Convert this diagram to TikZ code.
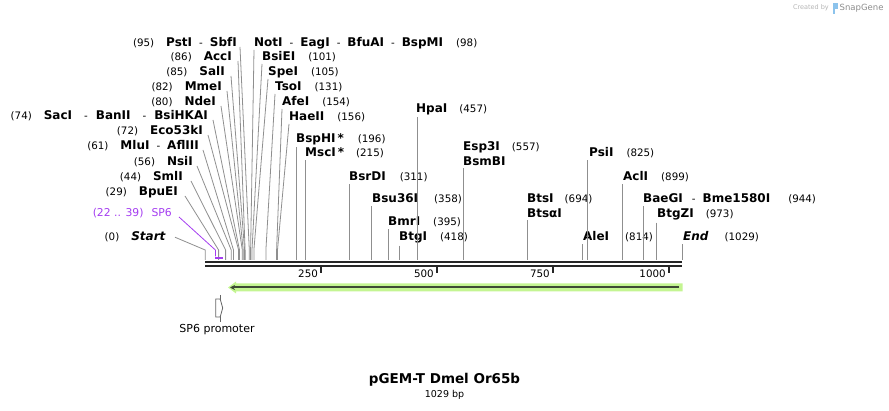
\documentclass[tikz,border=0pt]{standalone}
\usepackage{fontspec}
\setmainfont{DejaVu Sans}
\usetikzlibrary{arrows.meta}

\definecolor{leadgray}{HTML}{8F8F8F}
\definecolor{primer}{HTML}{A43DF0}
\definecolor{featlight}{HTML}{C4F592}
\definecolor{featdark}{HTML}{3E4A35}
\definecolor{markgray}{HTML}{B5B5B5}
\definecolor{markblue}{HTML}{8CC3EC}
\newcommand{\bpnum}[1]{{\mdseries\fontsize{10.3}{12}\selectfont #1}}
\newcommand{\cutsep}{\hspace{7pt}\bpnum{-}\hspace{7pt}}

\begin{document}
\begin{tikzpicture}[x=1pt,y=-1pt,
    leader/.style={draw=leadgray,line width=0.8pt},
    axisline/.style={draw=black!85,line width=2.4pt},
    tick/.style={draw=black!85,line width=1.8pt}]
\useasboundingbox (0,0) rectangle (889,411);

% cut positions on the sequence line
\coordinate (s0) at (205.2,260);   \coordinate (k0) at (205.2,250);
\coordinate (s29) at (218.6,260);  \coordinate (k29) at (218.6,250);
\coordinate (s44) at (225.6,260);  \coordinate (k44) at (225.6,250);
\coordinate (s56) at (231.2,260);  \coordinate (k56) at (231.2,250);
\coordinate (s61) at (233.5,260);  \coordinate (k61) at (233.5,250);
\coordinate (s72) at (238.6,260);  \coordinate (k72) at (238.6,250);
\coordinate (s74) at (239.5,260);  \coordinate (k74) at (239.5,250);
\coordinate (s80) at (242.3,260);  \coordinate (k80) at (242.3,250);
\coordinate (s82) at (243.2,260);  \coordinate (k82) at (243.2,250);
\coordinate (s85) at (244.6,260);  \coordinate (k85) at (244.6,250);
\coordinate (s86) at (245.1,260);  \coordinate (k86) at (245.1,250);
\coordinate (s95) at (249.3,260);  \coordinate (k95) at (249.3,250);
\coordinate (s98) at (250.6,260);  \coordinate (k98) at (250.6,250);
\coordinate (s101) at (252.0,260); \coordinate (k101) at (252.0,250);
\coordinate (s105) at (253.9,260); \coordinate (k105) at (253.9,250);
\coordinate (s131) at (265.9,260); \coordinate (k131) at (265.9,250);
\coordinate (s154) at (276.6,260); \coordinate (k154) at (276.6,250);
\coordinate (s156) at (277.5,260); \coordinate (k156) at (277.5,250);
\coordinate (s196) at (296.1,260);
\coordinate (s215) at (304.9,260);
\coordinate (s311) at (349.4,260);
\coordinate (s358) at (371.2,260);
\coordinate (s395) at (388.4,260);
\coordinate (s418) at (399.0,260);
\coordinate (s457) at (417.1,260);
\coordinate (s557) at (463.5,260);
\coordinate (s694) at (527.0,260);
\coordinate (s814) at (582.7,260);
\coordinate (s825) at (587.7,260);
\coordinate (s899) at (622.1,260);
\coordinate (s944) at (643.0,260);
\coordinate (s973) at (656.4,260);
\coordinate (s1029) at (682.4,260);

% labels left of the fan
\begin{scope}[every node/.style={anchor=base east,inner sep=0pt,outer ysep=2pt,
              font=\bfseries\fontsize{12}{14}\selectfont}]
    \node (PstI) at (237,47) {\bpnum{(95)}\hspace{12pt}PstI\cutsep SbfI};
    \node (AccI) at (232,61) {\bpnum{(86)}\hspace{12pt}AccI};
    \node (SalI) at (225,76) {\bpnum{(85)}\hspace{12pt}SalI};
    \node (MmeI) at (222,91) {\bpnum{(82)}\hspace{12pt}MmeI};
    \node (NdeI) at (216,106) {\bpnum{(80)}\hspace{12pt}NdeI};
    \node (SacI) at (208,120) {\bpnum{(74)}\hspace{12pt}SacI\hspace{12pt}\bpnum{-}\hspace{8pt}BanII\hspace{12pt}\bpnum{-}\hspace{8pt}BsiHKAI};
    \node (Eco53kI) at (203,135) {\bpnum{(72)}\hspace{12pt}Eco53kI};
    \node (MluI) at (199,150) {\bpnum{(61)}\hspace{12pt}MluI\cutsep AflIII};
    \node (NsiI) at (193,166) {\bpnum{(56)}\hspace{12pt}NsiI};
    \node (SmlI) at (183,181) {\bpnum{(44)}\hspace{12pt}SmlI};
    \node (BpuEI) at (178,196) {\bpnum{(29)}\hspace{12pt}BpuEI};
    \node[text=primer,font=\fontsize{10.8}{12}\selectfont] (SPsix) at (172,217) {(22 .. 39)\hspace{8pt}SP6};
    \node (Start) at (166,241) {\bpnum{(0)}\hspace{12pt}\textit{Start}};
\end{scope}

% labels right of the fan and along the line
\begin{scope}[every node/.style={anchor=base west,inner sep=0pt,outer ysep=2pt,
              font=\bfseries\fontsize{12}{14}\selectfont}]
    \node (NotI) at (254,47) {NotI\cutsep EagI\cutsep BfuAI\cutsep BspMI\hspace{13pt}\bpnum{(98)}};
    \node (BsiEI) at (262,61) {BsiEI\hspace{13pt}\bpnum{(101)}};
    \node (SpeI) at (268,76) {SpeI\hspace{13pt}\bpnum{(105)}};
    \node (TsoI) at (275,91) {TsoI\hspace{13pt}\bpnum{(131)}};
    \node (AfeI) at (282,106) {AfeI\hspace{13pt}\bpnum{(154)}};
    \node (HaeII) at (289,121) {HaeII\hspace{13pt}\bpnum{(156)}};
    \node (BspHI) at (296,143) {BspHI\,*\hspace{14pt}\bpnum{(196)}};
    \node (MscI) at (305,157) {MscI\,*\hspace{12pt}\bpnum{(215)}};
    \node (HpaI) at (416,113) {HpaI\hspace{12pt}\bpnum{(457)}};
    \node (Esp3I) at (463,151) {Esp3I\hspace{12pt}\bpnum{(557)}};
    \node (BsmBI) at (463,166) {BsmBI};
    \node (BsrDI) at (349,181) {BsrDI\hspace{14pt}\bpnum{(311)}};
    \node (Bsu36I) at (372,203) {Bsu36I\hspace{16pt}\bpnum{(358)}};
    \node (BmrI) at (388,226) {BmrI\hspace{13pt}\bpnum{(395)}};
    \node (BtgI) at (399,241) {BtgI\hspace{13pt}\bpnum{(418)}};
    \node (BtsI) at (527,203) {BtsI\hspace{11pt}\bpnum{(694)}};
    \node (BtsaI) at (527,218) {BtsαI};
    \node (PsiI) at (589,157) {PsiI\hspace{13pt}\bpnum{(825)}};
    \node (AclI) at (623,181) {AclI\hspace{13pt}\bpnum{(899)}};
    \node (BaeGI) at (643,203) {BaeGI\hspace{9pt}\bpnum{-}\hspace{7pt}Bme1580I\hspace{18pt}\bpnum{(944)}};
    \node (BtgZI) at (657,218) {BtgZI\hspace{12pt}\bpnum{(973)}};
    \node (AleI) at (583,241) {AleI\hspace{16pt}\bpnum{(814)}};
    \node (End) at (683,241) {\textit{End}\hspace{16pt}\bpnum{(1029)}};
\end{scope}

% leaders of the fan
\draw[leader] ([xshift=9pt]Start.east) -- (k0) -- (s0);
\draw[leader] ([xshift=7pt]BpuEI.base east) -- (k29) -- (s29);
\draw[leader] ([xshift=8pt]SmlI.base east) -- (k44) -- (s44);
\draw[leader] ([xshift=4pt]NsiI.base east) -- (k56) -- (s56);
\draw[leader] ([xshift=4pt]MluI.base east) -- (k61) -- (s61);
\draw[leader] ([xshift=5pt]Eco53kI.base east) -- (k72) -- (s72);
\draw[leader] ([xshift=5pt]SacI.base east) -- (k74) -- (s74);
\draw[leader] ([xshift=5pt]NdeI.base east) -- (k80) -- (s80);
\draw[leader] ([xshift=5pt]MmeI.base east) -- (k82) -- (s82);
\draw[leader] ([xshift=6pt]SalI.base east) -- (k85) -- (s85);
\draw[leader] ([xshift=6pt]AccI.base east) -- (k86) -- (s86);
\draw[leader] ([xshift=3pt]PstI.base east) -- (k95) -- (s95);
\draw[leader] ([yshift=-3pt]NotI.base west) -- (k98) -- (s98);
\draw[leader] ([yshift=-3pt]BsiEI.base west) -- (k101) -- (s101);
\draw[leader] ([yshift=-3pt]SpeI.base west) -- (k105) -- (s105);
\draw[leader] ([yshift=-3pt]TsoI.base west) -- (k131) -- (s131);
\draw[leader] ([yshift=-3pt]AfeI.base west) -- (k154) -- (s154);
\draw[leader] ([yshift=-3pt]HaeII.base west) -- (k156) -- (s156);

% straight leaders
\draw[leader] (s196 |- BspHI.south) -- (s196);
\draw[leader] (s215 |- MscI.south) -- (s215);
\draw[leader] (s311 |- BsrDI.south) -- (s311);
\draw[leader] (s358 |- Bsu36I.south) -- (s358);
\draw[leader] (s395 |- BmrI.south) -- (s395);
\draw[leader] (s418 |- BtgI.south) -- (s418);
\draw[leader] (s457 |- HpaI.south) -- (s457);
\draw[leader] (s557 |- BsmBI.south) -- (s557);
\draw[leader] (s694 |- BtsaI.south) -- (s694);
\draw[leader] (s814 |- AleI.south) -- (s814);
\draw[leader] (s825 |- PsiI.south) -- (s825);
\draw[leader] (s899 |- AclI.south) -- (s899);
\draw[leader] (s944 |- BaeGI.south) -- (s944);
\draw[leader] (s973 |- BtgZI.south) -- (s973);
\draw[leader] (s1029 |- End.south) -- (s1029);

% SP6 primer
\coordinate (p22) at (215.4,250);
\coordinate (q22) at (215.4,256.5);
\coordinate (r22) at (215.4,258);
\coordinate (r39) at (223.3,258);
\draw[draw=primer,line width=0.8pt] ([xshift=7pt]SPsix.base east) -- (p22) -- (q22);
\draw[draw=primer,line width=1.8pt] (r22) -- (r39);

% sequence line with ruler
\coordinate (a0) at (205.2,262);  \coordinate (a1) at (682.4,262);
\coordinate (b0) at (205.2,266);  \coordinate (b1) at (682.4,266);
\draw[axisline] (a0) -- (a1);
\draw[axisline] (b0) -- (b1);
\coordinate (t250) at (321.1,266);  \coordinate (u250) at (321.1,273);
\coordinate (t500) at (437.0,266);  \coordinate (u500) at (437.0,273);
\coordinate (t750) at (553.0,266);  \coordinate (u750) at (553.0,273);
\coordinate (t1000) at (668.9,266); \coordinate (u1000) at (668.9,273);
\draw[tick] (t250) -- (u250);
\draw[tick] (t500) -- (u500);
\draw[tick] (t750) -- (u750);
\draw[tick] (t1000) -- (u1000);
\begin{scope}[every node/.style={anchor=east,inner sep=0pt,font=\fontsize{10.3}{12}\selectfont}]
    \node (n250) at ([xshift=-3pt,yshift=-1pt]u250) {250};
    \node (n500) at ([xshift=-3pt,yshift=-1pt]u500) {500};
    \node (n750) at ([xshift=-3pt,yshift=-1pt]u750) {750};
    \node (n1000) at ([xshift=-3pt,yshift=-1pt]u1000) {1000};
\end{scope}

% feature arrow
\fill[featlight] (228,287.5) -- (236,281.5) -- (236,283.5) -- (682.5,283.5)
    -- (682.5,291.5) -- (236,291.5) -- (236,293.5) -- cycle;
\coordinate (f0) at (679,287.5);
\coordinate (f1) at (230,287.5);
\draw[featdark,line width=2pt,-{Stealth[length=5pt,width=5pt]}] (f0) -- (f1);

% SP6 promoter
\coordinate (m0) at (220.7,295);
\coordinate (m1) at (220.7,322);
\draw[draw=black!60,line width=0.8pt] (m0) -- (m1);
\filldraw[fill=white,draw=black!60,line width=0.8pt] (215.7,299) -- (220.2,299) -- (222.7,308)
    -- (220.2,317) -- (215.7,317) -- cycle;
\node[inner sep=0pt,font=\fontsize{11}{13}\selectfont] (SPprom) at (217,330) {SP6 promoter};

% title
\node[inner sep=0pt,font=\bfseries\fontsize{13.5}{16}\selectfont] (title) at (444.5,380) {pGEM-T Dmel Or65b};
\node[inner sep=0pt,font=\fontsize{9.5}{11}\selectfont] (size) at (444.5,395) {1029 bp};

% watermark
\node[anchor=east,inner sep=0pt,text=markgray,font=\fontsize{6.5}{8}\selectfont] (made) at (829,8) {Created by};
\fill[markblue] (833,3) rectangle (838,9);
\fill[markblue] (833,9) rectangle (835,14);
\node[anchor=west,inner sep=0pt,text=black!45,font=\fontsize{8.5}{10}\selectfont] (snap) at (839.5,8) {SnapGene};
\end{tikzpicture}
\end{document}
